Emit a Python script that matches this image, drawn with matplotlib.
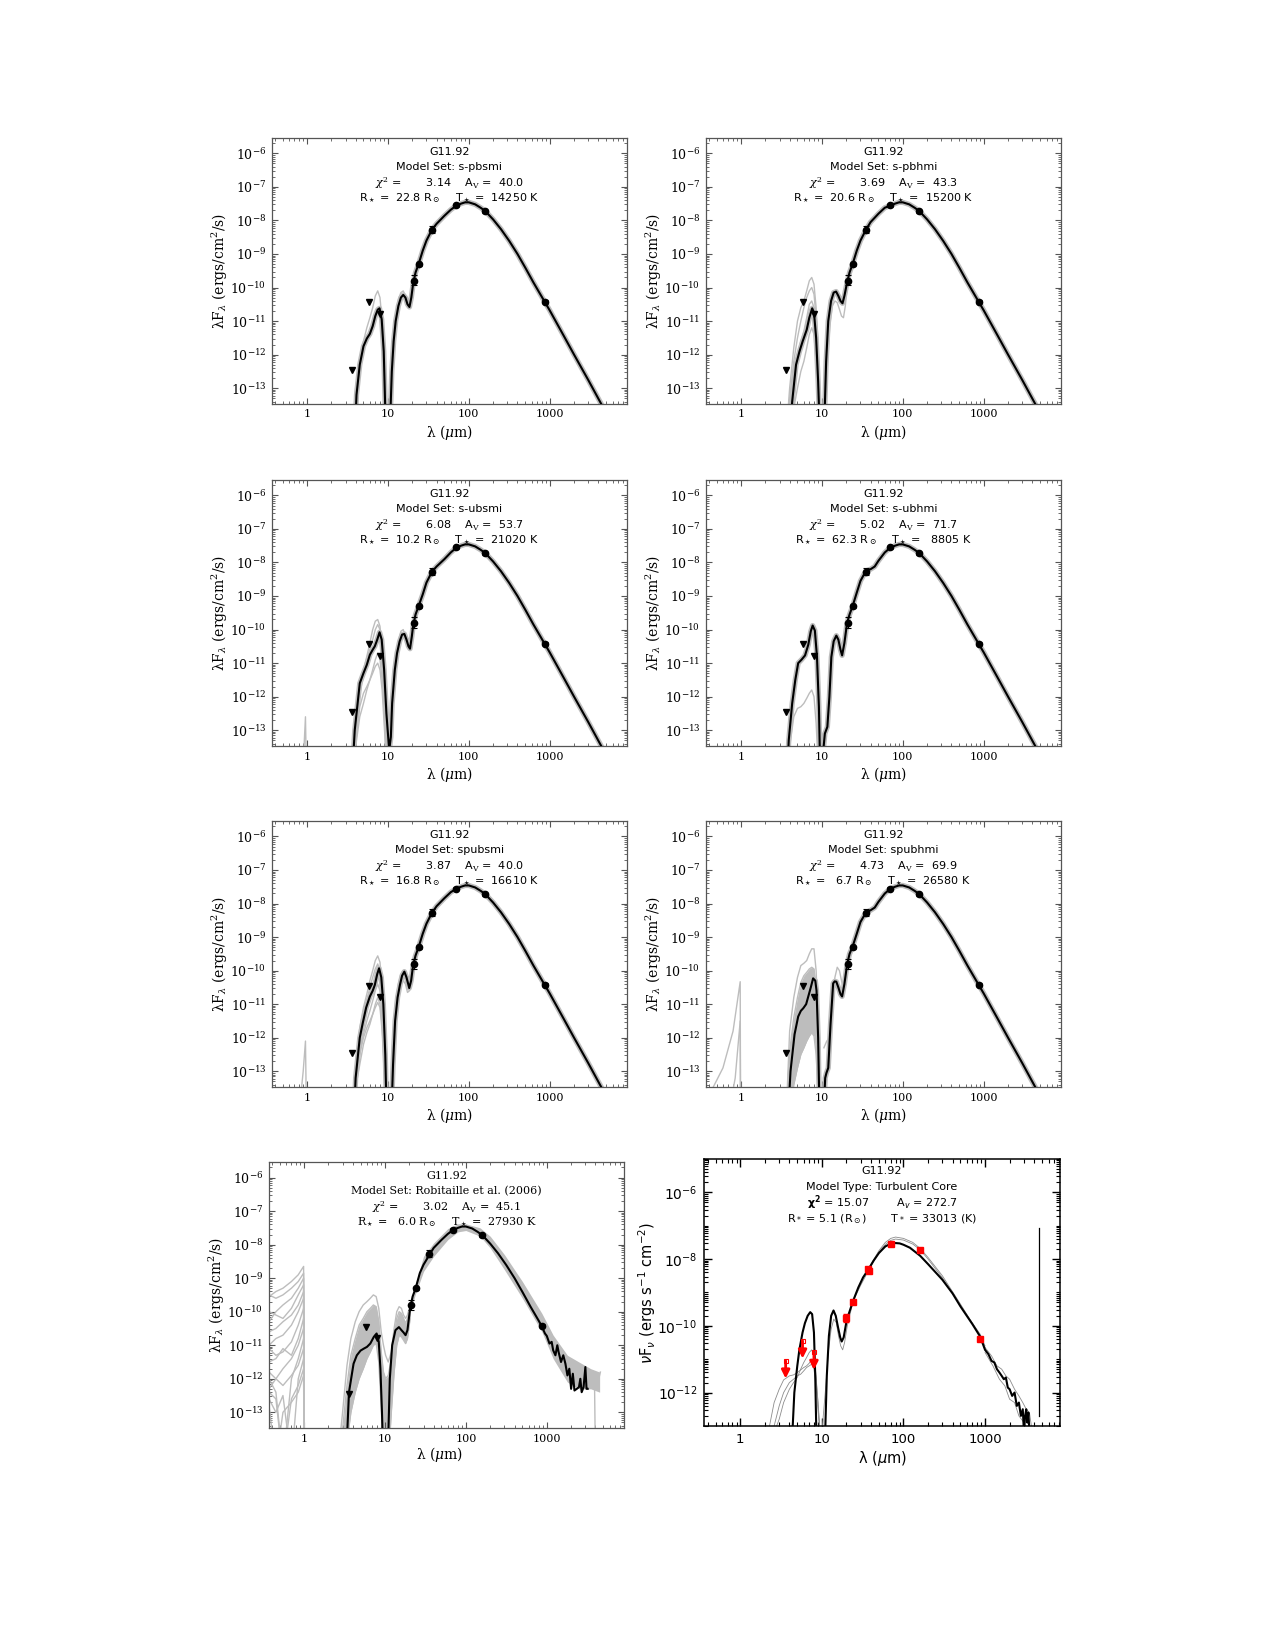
import numpy as np
import matplotlib
matplotlib.use('Agg')
import matplotlib.pyplot as plt
from matplotlib.ticker import LogLocator, NullFormatter

# observed photometry (same source in every panel)
OBS_WL = [20.9, 24.0, 35.0, 70.0, 160.0, 870.0]
OBS_F = [1.6e-10, 5.0e-10, 5.2e-9, 2.8e-8, 1.9e-8, 3.8e-11]
OBS_ELO = [0.45e-10, 0.5e-10, 1.0e-9, 3e-9, 2e-9, 4e-12]
OBS_EHI = [0.7e-10, 0.5e-10, 1.5e-9, 3e-9, 2e-9, 4e-12]
LIM_WL = [3.6, 5.8, 8.0]
LIM_F = [3.5e-13, 3.6e-11, 1.6e-11]

# panel labels
MODEL_SETS = ['s-pbsmi', 's-pbhmi', 's-ubsmi', 's-ubhmi', 'spubsmi', 'spubhmi',
              'Robitaille et al. (2006)']
CHI2 = ['3.14', '3.69', '6.08', '5.02', '3.87', '4.73', '3.02']
AV = ['40.0', '43.3', '53.7', '71.7', '40.0', '69.9', '45.1']
RSTAR = ['22.8', '20.6', '10.2', '62.3', '16.8', ' 6.7', ' 6.0']
TSTAR = ['14250', '15200', '21020', ' 8805', '16610', '26580', '27930']

# shared far-IR tail of the best fits (log10 lambda F_lambda)
TAIL_WL = [70, 80, 90, 100, 120, 140, 160, 200, 250, 316, 400, 500, 630, 800, 870,
           1000, 1500, 2000, 3000, 4400, 6000]
TAIL_LOGF = [-7.56, -7.5, -7.46, -7.46, -7.52, -7.62, -7.72, -7.97, -8.26, -8.61, -9.0,
             -9.41, -9.85, -10.28, -10.43, -10.68, -11.45, -12.0, -12.76, -13.5, -14.1]

# best fits, near/mid-IR part
P1_WL = [3.9, 4.1, 4.5, 5.0, 5.5, 6.0, 6.5, 7.0, 7.5, 7.9, 8.4, 8.9, 9.5, 10.5, 11.2, 11.8,
         12.5, 13.5, 14.5, 15.5, 16.5, 17.5, 18.5, 19.5, 20.5, 22, 24, 27, 30, 35, 40, 50, 60]
P1_LOGF = [-14.5, -13.2, -12.3, -11.75, -11.52, -11.38, -11.15, -10.85, -10.66, -10.62, -10.95,
           -11.9, -14.5, -14.5, -12.5, -11.6, -11.0, -10.55, -10.3, -10.22, -10.3, -10.5, -10.58,
           -10.3, -9.9, -9.55, -9.3, -8.9, -8.6, -8.28, -8.1, -7.86, -7.68]
P2_WL = [4.0, 4.3, 4.8, 5.3, 5.8, 6.5, 7.0, 7.6, 8.0, 8.5, 9.0, 9.5, 10.6, 11.3, 12.0, 13.0,
         14.0, 15.0, 16.0, 17.0, 18.0, 19.0, 20.5, 22, 24, 27, 30, 35, 40, 50, 60]
P2_LOGF = [-14.5, -13.4, -12.3, -11.9, -11.6, -11.26, -10.9, -10.62, -10.75, -11.5, -12.8,
           -14.5, -14.5, -12.2, -11.0, -10.4, -10.15, -10.12, -10.25, -10.4, -10.47, -10.25,
           -9.85, -9.55, -9.3, -8.9, -8.6, -8.28, -8.05, -7.8, -7.62]
P3_WL = [3.6, 3.9, 4.5, 5.0, 5.5, 6.0, 6.5, 6.9, 7.4, 7.9, 8.4, 9.0, 9.6, 10.4, 10.9, 11.3,
         12.2, 13.0, 14.0, 15.0, 16.0, 17.0, 18.0, 18.8, 19.8, 20.5, 22, 24, 27, 30, 35, 40,
         50, 60]
P3_LOGF = [-14.5, -13.0, -11.6, -11.3, -11.05, -10.75, -10.6, -10.5, -10.3, -10.08, -10.3,
           -11.2, -12.5, -13.6, -13.2, -12.2, -11.2, -10.7, -10.35, -10.15, -10.13, -10.3,
           -10.5, -10.57, -10.2, -9.9, -9.55, -9.3, -8.95, -8.6, -8.28, -8.12, -7.9, -7.7]
P4_WL = [3.7, 3.9, 4.3, 4.7, 5.1, 5.6, 6.2, 6.8, 7.3, 7.7, 8.2, 8.7, 9.2, 9.6, 10.9, 11.7,
         12.4, 13.1, 14.0, 15.1, 16.0, 17.0, 17.8, 19.0, 20.5, 22, 24, 27, 30, 35, 40, 45,
         50, 60]
P4_LOGF = [-14.5, -13.3, -12.2, -11.5, -11.0, -10.9, -10.77, -10.45, -10.05, -9.88, -10.03,
           -10.8, -12.3, -14.5, -13.1, -12.9, -12.0, -10.82, -10.35, -10.18, -10.3, -10.6,
           -10.77, -10.4, -9.8, -9.55, -9.3, -8.9, -8.55, -8.25, -8.2, -8.12, -7.95, -7.7]
P5_WL = [3.8, 4.0, 4.5, 4.9, 5.4, 6.0, 6.5, 6.9, 7.4, 7.8, 8.3, 8.8, 9.3, 9.7, 11.0, 11.6,
         12.3, 13.2, 14.1, 15.0, 16.0, 17.0, 18.4, 19.4, 20.5, 22, 24, 27, 30, 35, 40, 50, 60]
P5_LOGF = [-14.5, -13.2, -12.0, -11.56, -11.1, -10.77, -10.6, -10.43, -10.1, -9.93, -10.2,
           -11.0, -12.5, -14.5, -14.5, -12.8, -11.5, -10.8, -10.43, -10.15, -10.03, -10.2,
           -10.52, -10.3, -9.85, -9.55, -9.3, -8.9, -8.6, -8.28, -8.08, -7.84, -7.66]
P6_WL = [3.8, 4.1, 4.6, 5.1, 5.5, 5.9, 6.4, 6.8, 7.3, 7.8, 8.3, 8.6, 9.0, 9.4, 10.4, 11.0,
         11.4, 12.0, 12.8, 13.8, 14.4, 15.1, 16.0, 17.0, 17.8, 19.0, 20.5, 22, 24, 27, 30,
         35, 40, 45, 50, 60]
P6_LOGF = [-14.5, -13.0, -11.9, -11.37, -11.2, -11.12, -11.0, -10.77, -10.5, -10.23, -10.3,
           -10.6, -12.0, -14.5, -14.5, -13.2, -13.05, -12.9, -11.6, -10.38, -10.32, -10.33,
           -10.5, -10.7, -10.77, -10.4, -9.82, -9.5, -9.28, -8.9, -8.55, -8.27, -8.2, -8.12,
           -7.95, -7.7]
P7_WL = [3.3, 3.6, 4.1, 4.5, 5.0, 5.5, 6.0, 6.6, 7.3, 7.9, 8.4, 8.8, 9.2, 9.6, 10.8, 11.5,
         12.3, 13.5, 14.9, 16.0, 17.0, 18.0, 19.0, 20.5, 22, 24, 27, 30, 35, 40, 50, 60]
P7_LOGF = [-14.5, -12.4, -11.55, -11.3, -11.16, -11.1, -11.05, -10.95, -10.75, -10.65, -10.9,
           -11.7, -13.0, -14.5, -14.5, -12.0, -11.0, -10.55, -10.46, -10.55, -10.62, -10.7,
           -10.55, -9.9, -9.55, -9.3, -8.85, -8.6, -8.33, -8.1, -7.86, -7.68]
P7_NOISE_WL = [870, 950, 1000, 1080, 1150, 1200, 1280, 1350, 1400, 1500, 1600, 1700, 1800,
               1900, 2000, 2100, 2200, 2350, 2500, 2600, 2700, 2850, 3000, 3100, 3200]
P7_NOISE_LOGF = [-10.44, -10.65, -10.72, -10.95, -10.9, -11.15, -11.3, -11.0, -11.2, -11.5,
                 -11.3, -11.55, -11.9, -11.7, -12.3, -11.85, -12.35, -12.3, -12.25, -12.0,
                 -12.4, -12.25, -11.65, -12.3, -12.3]

# grey (other good) models, near-IR bump
NIR_WL = [3.6, 4.0, 4.5, 5.0, 5.5, 6.0, 6.5, 7.0, 7.5, 8.0, 8.5, 9.0, 9.6]
P1_GREY = [[-14.5, -13.0, -12.2, -11.6, -11.2, -10.9, -10.6, -10.25, -10.1, -10.3, -11.0,
            -12.3, -14.5]]
P2_GREY = [[-14.5, -13.0, -11.8, -11.0, -10.6, -10.4, -10.1, -9.8, -9.7, -9.9, -10.6, -11.8, -14.5],
           [-14.5, -13.3, -12.2, -11.5, -11.0, -10.6, -10.3, -10.1, -10.0, -10.2, -10.9, -12.2, -14.5],
           [-14.5, -13.6, -12.6, -12.0, -11.6, -11.3, -10.9, -10.5, -10.4, -10.6, -11.3, -12.6, -14.5],
           [-14.5, -14.5, -13.6, -13.0, -12.5, -12.2, -11.8, -11.4, -11.2, -11.4, -12.2, -13.5, -14.5]]
P3_GREY = [[-14.5, -12.8, -11.6, -11.2, -10.8, -10.4, -10.0, -9.75, -9.7, -9.9, -10.6, -11.6, -13.5],
           [-14.5, -13.0, -11.9, -11.4, -11.0, -10.6, -10.3, -10.0, -9.85, -10.0, -10.7, -11.8, -13.6],
           [-14.5, -13.5, -12.6, -12.2, -11.8, -11.5, -11.2, -10.9, -10.7, -10.9, -11.5, -12.5, -14.0],
           [-14.5, -13.4, -12.3, -11.9, -11.7, -11.5, -11.3, -11.1, -11.0, -11.2, -11.8, -12.8, -14.0]]
P4_GREY = [[-14.5, -13.5, -12.6, -12.35, -12.3, -12.2, -12.05, -11.9, -11.8, -12.0, -12.8, -14.0, -14.5]]
P5_GREY = [[-14.5, -12.9, -11.7, -11.1, -10.7, -10.3, -10.0, -9.7, -9.56, -9.75, -10.5, -11.7, -14.5],
           [-14.5, -13.1, -12.0, -11.4, -10.9, -10.5, -10.2, -9.95, -9.8, -10.0, -10.7, -12.0, -14.5],
           [-14.5, -13.3, -12.4, -11.9, -11.5, -11.2, -10.9, -10.6, -10.4, -10.6, -11.3, -12.6, -14.5],
           [-14.5, -13.5, -12.8, -12.2, -11.85, -11.6, -11.3, -11.1, -10.95, -11.1, -11.8, -13.0, -14.5],
           [-14.5, -13.4, -12.5, -12.0, -11.7, -11.5, -11.3, -11.0, -10.8, -11.0, -11.6, -12.8, -14.5]]
P6_GREY = [[-14.5, -11.8, -10.8, -10.2, -9.85, -9.78, -9.7, -9.5, -9.35, -9.35, -10.0, -11.5, -14.5],
           [-14.5, -12.4, -11.4, -10.8, -10.35, -10.15, -10.05, -9.95, -9.9, -9.95, -10.5, -11.9, -14.5],
           [-14.5, -12.8, -11.8, -11.2, -10.8, -10.5, -10.35, -10.25, -10.18, -10.3, -10.9, -12.3, -14.5],
           [-14.5, -13.2, -12.3, -11.8, -11.4, -11.15, -10.95, -10.8, -10.7, -10.8, -11.4, -12.7, -14.5],
           [-14.5, -13.8, -12.9, -12.4, -12.0, -11.7, -11.45, -11.25, -11.1, -11.2, -11.8, -13.0, -14.5],
           [-14.5, -14.5, -13.4, -12.9, -12.5, -12.3, -12.1, -11.95, -11.85, -11.95, -12.5, -13.6, -14.5]]

# grey models, 15 micron bump
MIR_WL = [10.6, 11.5, 12.5, 13.5, 14.5, 15.5, 16.5, 17.5, 18.5, 19.5, 20.5]
P1_MIR_GREY = [[-14.5, -12.2, -10.9, -10.35, -10.15, -10.1, -10.25, -10.45, -10.5, -10.25, -9.9]]
P2_MIR_GREY = [[-14.5, -12.6, -11.2, -10.55, -10.4, -10.45, -10.65, -10.85, -10.9, -10.55, -10.0]]
P3_MIR_GREY = [[-13.8, -12.0, -10.9, -10.35, -10.05, -10.0, -10.2, -10.45, -10.5, -10.3, -9.9]]
P5_MIR_GREY = [[-14.5, -12.0, -10.9, -10.4, -10.1, -10.0, -10.2, -10.45, -10.5, -10.3, -9.9],
               [-14.5, -12.4, -11.2, -10.7, -10.4, -10.3, -10.4, -10.65, -10.6, -10.4, -10.0]]
P6_MIR_GREY = [[-12.3, -12.1, -12.0, -11.0, -10.2, -9.9, -10.0, -10.3, -10.6, -10.3, -9.85]]

# grey spikes near 1 micron
P3_SPIKE_WL = [0.88, 0.96, 0.99]
P3_SPIKE_LOGF = [-14.5, -12.6, -14.5]
P5_SPIKE_WL = [0.78, 0.9, 0.96, 0.99]
P5_SPIKE_LOGF = [-14.5, -13.0, -12.1, -14.5]
P6_SPIKE_WL = [[0.37, 0.6, 0.8, 0.98, 0.99], [0.68, 0.85, 0.98, 0.99]]
P6_SPIKE_LOGF = [[-13.9, -12.9, -11.8, -10.33, -14.5], [-14.5, -13.2, -11.5, -14.5]]

# Robitaille et al. (2006) grid: many grey models
P7_NIR_WL = [2.6, 3.0, 3.4, 3.8, 4.3, 4.8, 5.4, 6.0, 6.6, 7.2, 7.8, 8.4, 9.0, 9.6, 10.2,
             11.0, 12.0, 13.0, 14.0, 15.0, 16.0, 17.0, 18.0, 19.0, 20.5]
P7_NIR_GREY = [
    [-14.5, -13.0, -11.6, -10.8, -10.3, -10.0, -9.8, -9.7, -9.6, -9.5, -9.55, -9.9, -10.6,
     -11.0, -11.3, -11.5, -11.2, -10.5, -10.0, -9.85, -9.9, -10.1, -10.2, -10.1, -9.8],
    [-14.5, -13.5, -12.2, -11.3, -10.8, -10.4, -10.2, -10.0, -9.9, -9.8, -9.85, -10.3, -11.2,
     -11.8, -12.0, -11.9, -11.4, -10.8, -10.2, -10.0, -10.05, -10.2, -10.35, -10.2, -9.85],
    [-14.5, -14.0, -12.8, -11.9, -11.3, -10.9, -10.6, -10.4, -10.25, -10.1, -10.1, -10.6, -11.6,
     -12.5, -12.8, -12.5, -11.7, -11.0, -10.4, -10.2, -10.2, -10.35, -10.5, -10.35, -9.9],
    [-14.5, -14.5, -13.3, -12.3, -11.7, -11.3, -11.0, -10.8, -10.6, -10.4, -10.4, -10.9, -12.0,
     -13.2, -14.5, -14.5, -12.2, -11.2, -10.6, -10.4, -10.4, -10.5, -10.65, -10.5, -10.0],
    [-14.5, -14.5, -13.6, -12.6, -12.0, -11.6, -11.3, -11.0, -10.8, -10.6, -10.6, -11.1, -12.4,
     -14.5, -14.5, -14.5, -12.6, -11.5, -10.8, -10.55, -10.6, -10.7, -10.8, -10.65, -10.1],
    [-14.5, -14.5, -13.9, -13.0, -12.4, -12.0, -11.7, -11.4, -11.2, -11.0, -10.95, -11.5, -12.8,
     -14.5, -14.5, -14.5, -13.0, -11.8, -11.0, -10.7, -10.75, -10.85, -10.95, -10.8, -10.2]]
P7_BAND_WL = [20.5, 24, 30, 40, 60, 80, 100, 150, 200, 300, 500, 870, 1200, 1800, 2500, 3500, 4500]
P7_BAND_HI = [-9.7, -9.15, -8.35, -7.95, -7.52, -7.38, -7.38, -7.5, -7.75, -8.3, -9.1, -10.05,
              -10.7, -11.3, -11.5, -11.7, -11.8]
P7_BAND_LO = [-10.0, -9.45, -8.8, -8.35, -7.85, -7.62, -7.58, -7.75, -8.1, -8.75, -9.6, -10.6,
              -11.4, -12.1, -12.3, -12.3, -12.4]
P7_TAIL_GREY_WL = [[1000, 1300, 1600, 2000, 2400, 2800, 3300, 3800, 4200, 4600],
                   [2500, 3000, 3600, 3900, 4000]]
P7_TAIL_GREY_LOGF = [[-10.6, -11.0, -11.6, -11.8, -12.1, -11.9, -12.3, -12.1, -12.2, -11.8],
                     [-12.2, -12.1, -12.2, -12.3, -14.5]]
P7_OPT_WL = [0.37, 0.45, 0.55, 0.7, 0.85, 0.99, 1.0]
P7_OPT_GREY = [
    [-9.55, -9.4, -9.3, -9.1, -8.9, -8.65, -14.5],
    [-9.5, -9.6, -9.5, -9.3, -9.1, -8.85, -14.5],
    [-10.3, -10.0, -9.8, -9.6, -9.3, -9.0, -14.5],
    [-10.0, -10.1, -10.2, -9.9, -9.5, -9.2, -14.5],
    [-10.6, -10.5, -10.3, -10.1, -9.8, -9.4, -14.5],
    [-11.0, -10.8, -10.7, -10.4, -10.0, -9.6, -14.5],
    [-11.1, -11.3, -11.2, -10.9, -10.4, -9.9, -14.5],
    [-11.5, -11.4, -11.1, -11.3, -10.8, -10.2, -14.5],
    [-11.8, -12.0, -11.7, -11.4, -11.0, -10.5, -14.5],
    [-12.0, -12.4, -14.5, -12.0, -11.4, -10.8, -14.5],
    [-12.3, -12.0, -12.2, -11.9, -11.6, -11.1, -14.5],
    [-12.6, -13.0, -12.5, -14.5, -12.0, -11.4, -14.5],
    [-12.4, -12.6, -14.5, -12.6, -12.2, -11.7, -14.5],
    [-12.8, -14.5, -13.0, -12.7, -12.4, -11.9, -14.5]]

# Turbulent core model (last panel)
P8_WL = [4.2, 4.6, 5.0, 5.3, 5.8, 6.2, 6.7, 7.2, 7.6, 8.0, 8.3, 8.6, 10.9, 11.5, 12.2, 13.0,
         13.9, 14.8, 15.8, 16.8, 17.5, 18.5, 20.2, 22, 24, 28, 32, 37, 43, 50, 60, 70, 80, 90,
         100, 120, 160, 200, 300, 400, 500, 700, 870, 1000]
P8_LOGF = [-14.0, -12.0, -11.2, -10.72, -10.2, -9.92, -9.7, -9.59, -9.65, -10.2, -11.5, -13.5,
           -13.5, -11.5, -10.3, -9.7, -9.54, -9.7, -10.05, -10.35, -10.47, -10.35, -9.82, -9.55,
           -9.27, -8.85, -8.55, -8.32, -8.05, -7.82, -7.62, -7.54, -7.52, -7.53, -7.57, -7.66,
           -7.9, -8.15, -8.62, -9.03, -9.42, -9.95, -10.32, -10.72]
P8_NOISE_WL = [1000, 1100, 1200, 1300, 1400, 1500, 1600, 1700, 1800, 1900, 2000, 2150, 2300,
               2450, 2600, 2750, 2900, 3000, 3100, 3200, 3300, 3400, 3500]
P8_NOISE_LOGF = [-10.72, -10.85, -11.05, -11.1, -11.3, -11.4, -11.5, -11.6, -11.55, -11.85, -11.9,
                 -12.1, -12.0, -12.4, -12.3, -12.7, -12.5, -13.2, -12.7, -12.5, -12.9, -12.6, -13.2]
P8_SPIKE_WL = [4600, 4600]
P8_SPIKE_LOGF = [-12.7, -7.07]
P8_NIR_WL = [2.2, 2.6, 3.0, 3.4, 4.0, 4.5, 5.0, 5.5, 6.0, 6.5, 7.0, 7.5, 8.0, 8.5, 9.0, 9.5]
P8_NIR_GREY = [
    [-13.2, -12.3, -11.9, -11.62, -11.5, -11.47, -11.4, -11.32, -11.25, -11.2, -11.12, -11.0, -11.1, -11.6, -12.3, -13.2],
    [-13.2, -13.0, -12.4, -12.0, -11.7, -11.6, -11.5, -11.45, -11.35, -11.25, -11.2, -11.15, -11.3, -11.8, -12.6, -13.2],
    [-13.2, -13.2, -12.8, -12.3, -11.9, -11.7, -11.55, -11.3, -11.1, -10.95, -10.8, -10.72, -10.9, -11.5, -12.4, -13.2]]
P8_MIR_GREY_WL = [10.0, 11, 12, 13, 14, 15, 16, 17, 18, 19, 20.5, 24]
P8_MIR_GREY_LOGF = [-13.2, -12.0, -10.8, -10.1, -9.8, -9.9, -10.3, -10.6, -10.72, -10.5, -10.0, -9.3]
P8_FIR_GREY_WL = [24, 30, 37, 50, 60, 70, 80, 100, 130, 160, 200, 300, 500, 870, 1000]
P8_FIR_GREY_LOGF = [[-9.25, -8.7, -8.3, -7.75, -7.5, -7.38, -7.34, -7.38, -7.5, -7.68, -7.95,
                     -8.5, -9.35, -10.3, -10.65],
                    [-9.27, -8.78, -8.36, -7.8, -7.56, -7.44, -7.4, -7.43, -7.55, -7.72, -8.0,
                     -8.56, -9.4, -10.25, -10.6]]
P8_TAIL_GREY_WL = [[1000, 1200, 1400, 1600, 1800, 2000, 2300, 2600, 2900, 3200, 3500, 3800],
                   [1000, 1250, 1500, 1750, 2000, 2300, 2600, 3000, 3400]]
P8_TAIL_GREY_LOGF = [[-10.65, -10.9, -11.2, -11.3, -11.5, -11.6, -11.9, -12.1, -12.3, -12.5, -12.6, -13.2],
                     [-10.8, -11.2, -11.6, -11.8, -12.2, -12.3, -12.7, -12.9, -13.2]]
P8_OBS_WL = [20.0, 24.0, 37.0, 37.5, 70.0, 160.0, 870.0]
P8_OBS_LOGF = [-9.77, -9.29, -8.29, -8.35, -7.54, -7.72, -10.4]
P8_LIM_WL = [3.6, 5.8, 8.0]
P8_LIM_TOP = [-11.05, -10.45, -10.79]
P8_LIM_TIP = [-11.58, -10.98, -11.32]

GREY = '#bdbdbd'
fig = plt.figure(figsize=(12.75, 16.5), dpi=100)

LEFT = [0.2133, 0.5537]
BOTTOMS = [0.7552, 0.5479, 0.3412, 0.1345]
W, H = 0.2784, 0.1612


def lin(v):
    return 10 ** np.array(v, dtype=float)


def sed_axes(rect):
    ax = fig.add_axes(rect)
    ax.set_xscale('log')
    ax.set_yscale('log')
    ax.set_xlim(0.37, 9000)
    ax.set_ylim(10 ** -13.47, 10 ** -5.54)
    for s in ax.spines.values():
        s.set_color('#555555')
        s.set_linewidth(0.9)
    ax.tick_params(which='both', direction='in', top=True, right=True, color='#555555')
    ax.tick_params(which='major', length=4.5, width=0.8, pad=4)
    ax.tick_params(which='minor', length=2.2, width=0.6)
    ax.set_xticks([1, 10, 100, 1000])
    ax.set_xticklabels(['1', '10', '100', '1000'], fontsize=8, family='DejaVu Serif')
    ax.xaxis.set_minor_locator(LogLocator(base=10, subs=range(2, 10), numticks=50))
    ax.xaxis.set_minor_formatter(NullFormatter())
    yt = [10.0 ** k for k in range(-13, -5)]
    ax.set_yticks(yt)
    ax.set_yticklabels([r'$10^{%d}$' % k for k in range(-13, -5)], fontsize=9,
                       math_fontfamily='dejavuserif')
    ax.yaxis.set_minor_locator(LogLocator(base=10, subs=range(2, 10), numticks=50))
    ax.yaxis.set_minor_formatter(NullFormatter())
    ax.set_ylabel(r'λF$_λ$ (ergs/cm$^2$/s)', fontsize=10, family='DejaVu Serif',
                  math_fontfamily='dejavuserif')
    ax.yaxis.set_label_coords(-0.118, 0.5)
    ax.set_xlabel(r'λ ($\mu$m)', fontsize=10, family='DejaVu Serif',
                  math_fontfamily='dejavuserif')
    ax.xaxis.set_label_coords(0.5, -0.07)
    return ax


def sed_text(ax, i, serif=False):
    fam = 'DejaVu Serif' if serif else 'DejaVu Sans'
    kw = dict(transform=ax.transAxes, ha='center', va='center', fontsize=8, family=fam,
              math_fontfamily='dejavuserif')
    ax.text(0.5, 0.948, 'G11.92', **kw)
    ax.text(0.5, 0.890, 'Model Set: ' + MODEL_SETS[i], **kw)
    ax.text(0.5, 0.832, r'$\chi^2$ =       %s    A$_{\rm V}$ =  %s' % (CHI2[i], AV[i]), **kw)
    ax.text(0.5, 0.773, r'R$_\star$ =  %s R$_\odot$    T$_\star$ =  %s K' % (RSTAR[i], TSTAR[i]), **kw)


def sed_obs(ax):
    ax.errorbar(OBS_WL, OBS_F, yerr=[OBS_ELO, OBS_EHI], fmt='o', color='black', ms=4.5,
                capsize=2.4, elinewidth=0.8, capthick=0.8, zorder=6)
    ax.plot(LIM_WL, LIM_F, 'v', color='black', ms=5, zorder=6)


panels = [
    (P1_WL, P1_LOGF, P1_GREY, P1_MIR_GREY),
    (P2_WL, P2_LOGF, P2_GREY, P2_MIR_GREY),
    (P3_WL, P3_LOGF, P3_GREY, P3_MIR_GREY),
    (P4_WL, P4_LOGF, P4_GREY, []),
    (P5_WL, P5_LOGF, P5_GREY, P5_MIR_GREY),
    (P6_WL, P6_LOGF, P6_GREY, P6_MIR_GREY),
]

for i, (wl, logf, grey, mgrey) in enumerate(panels):
    ax = sed_axes([LEFT[i % 2], BOTTOMS[i // 2], W, H])
    best_wl = list(wl) + TAIL_WL
    best_f = list(logf) + TAIL_LOGF
    # grey halo = spread of the other good fits
    ax.plot(best_wl, lin(best_f), color=GREY, lw=3.8, zorder=2)
    for g in grey:
        ax.plot(NIR_WL, lin(g), color=GREY, lw=1.0, zorder=2)
    for g in mgrey:
        ax.plot(MIR_WL, lin(g), color=GREY, lw=1.0, zorder=2)
    if i == 5:
        ax.fill_between(NIR_WL, lin(grey[-1]), lin(grey[1]), color=GREY, lw=0, zorder=1)
        for sw, sf in zip(P6_SPIKE_WL, P6_SPIKE_LOGF):
            ax.plot(sw, lin(sf), color=GREY, lw=1.0)
    if i == 2:
        ax.plot(P3_SPIKE_WL, lin(P3_SPIKE_LOGF), color=GREY, lw=1.0)
    if i == 4:
        ax.plot(P5_SPIKE_WL, lin(P5_SPIKE_LOGF), color=GREY, lw=1.0)
    ax.plot(best_wl, lin(best_f), color='black', lw=1.5, zorder=4)
    sed_obs(ax)
    sed_text(ax, i)

# Robitaille et al. (2006) panel
ax = sed_axes([0.211, BOTTOMS[3], W, H])
ax.xaxis.set_label_coords(0.48, -0.062)
for g in P7_OPT_GREY:
    ax.plot(P7_OPT_WL, lin(g), color=GREY, lw=1.0)
ax.fill_between(P7_NIR_WL, lin(P7_NIR_GREY[-1]), lin(P7_NIR_GREY[1]), color=GREY, lw=0)
for g in P7_NIR_GREY:
    ax.plot(P7_NIR_WL, lin(g), color=GREY, lw=1.0)
ax.fill_between(P7_BAND_WL, lin(P7_BAND_LO), lin(P7_BAND_HI), color=GREY, lw=0)
for tw, tf in zip(P7_TAIL_GREY_WL, P7_TAIL_GREY_LOGF):
    ax.plot(tw, lin(tf), color=GREY, lw=1.0)
tail_keep = [k for k, w in enumerate(TAIL_WL) if w < 870]
p7_wl = P7_WL + [TAIL_WL[k] for k in tail_keep] + P7_NOISE_WL
p7_f = P7_LOGF + [TAIL_LOGF[k] for k in tail_keep] + P7_NOISE_LOGF
ax.plot(p7_wl, lin(p7_f), color='black', lw=1.5, zorder=4)
sed_obs(ax)
sed_text(ax, 6, serif=True)

# Turbulent core panel (IDL style)
ax = fig.add_axes([0.5522, 0.1358, 0.2792, 0.1618])
ax.set_xscale('log')
ax.set_yscale('log')
ax.set_xlim(0.36, 8300)
ax.set_ylim(1e-13, 1e-5)
for s in ax.spines.values():
    s.set_linewidth(1.1)
ax.tick_params(which='both', direction='in', top=True, right=True)
ax.tick_params(which='major', length=6, width=1.0, pad=5)
ax.tick_params(which='minor', length=3, width=0.8)
ax.set_xticks([1, 10, 100, 1000])
ax.set_xticklabels(['1', '10', '100', '1000'], fontsize=9.5, family='DejaVu Sans')
ax.xaxis.set_minor_locator(LogLocator(base=10, subs=range(2, 10), numticks=50))
ax.xaxis.set_minor_formatter(NullFormatter())
ax.set_yticks([1e-12, 1e-10, 1e-8, 1e-6])
ax.set_yticklabels([r'$10^{-12}$', r'$10^{-10}$', r'$10^{-8}$', r'$10^{-6}$'], fontsize=10,
                   math_fontfamily='dejavusans')
ax.yaxis.set_minor_locator(LogLocator(base=10, subs=range(1, 10), numticks=50))
ax.yaxis.set_minor_formatter(NullFormatter())
ax.set_ylabel(r'$\nu$F$_\nu$ (ergs s$^{-1}$ cm$^{-2}$)', fontsize=10.5, family='DejaVu Sans',
              math_fontfamily='dejavusans')
ax.yaxis.set_label_coords(-0.128, 0.5)
ax.set_xlabel(r'λ ($\mu$m)', fontsize=10.5, family='DejaVu Sans', math_fontfamily='dejavusans')
ax.xaxis.set_label_coords(0.5, -0.085)

for g in P8_NIR_GREY:
    ax.plot(P8_NIR_WL, lin(g), color='#8c8c8c', lw=0.6)
ax.plot(P8_MIR_GREY_WL, lin(P8_MIR_GREY_LOGF), color='#8c8c8c', lw=0.6)
for g in P8_FIR_GREY_LOGF:
    ax.plot(P8_FIR_GREY_WL, lin(g), color='#8c8c8c', lw=0.6)
for tw, tf in zip(P8_TAIL_GREY_WL, P8_TAIL_GREY_LOGF):
    ax.plot(tw, lin(tf), color='#8c8c8c', lw=0.6)
ax.plot(P8_WL + P8_NOISE_WL, lin(P8_LOGF + P8_NOISE_LOGF), color='black', lw=1.5, zorder=4)
ax.plot(P8_SPIKE_WL, lin(P8_SPIKE_LOGF), color='black', lw=0.9)

ax.plot(P8_OBS_WL, lin(P8_OBS_LOGF), 's', color='red', ms=4, zorder=6)
ax.errorbar([P8_OBS_WL[0]], lin([P8_OBS_LOGF[0]]), yerr=[[0.4e-10], [0.6e-10]], fmt='none',
            ecolor='red', capsize=2.5, elinewidth=0.8, zorder=6)
for w, t, b in zip(P8_LIM_WL, P8_LIM_TOP, P8_LIM_TIP):
    ax.plot([w], [10 ** t], marker='s', ms=3.2, mfc='none', mec='red', mew=0.8, zorder=6)
    ax.annotate('', xy=(w, 10 ** b), xytext=(w, 10 ** t),
                arrowprops=dict(arrowstyle='-|>', color='red', lw=2.0,
                                mutation_scale=12, shrinkA=0, shrinkB=0), zorder=6)

kw = dict(transform=ax.transAxes, ha='center', va='center', fontsize=8,
          family='DejaVu Sans', math_fontfamily='dejavusans')
ax.text(0.5, 0.956, 'G11.92', **kw)
ax.text(0.5, 0.896, 'Model Type: Turbulent Core', **kw)
ax.text(0.5, 0.836, r'$\mathbf{\chi^2}$ = 15.07        A$_v$ = 272.7', **kw)
ax.text(0.5, 0.775, r'R$_*$ = 5.1 (R$_\odot$)       T$_*$ = 33013 (K)', **kw)

fig.savefig('out.png', dpi=100, facecolor='white')
